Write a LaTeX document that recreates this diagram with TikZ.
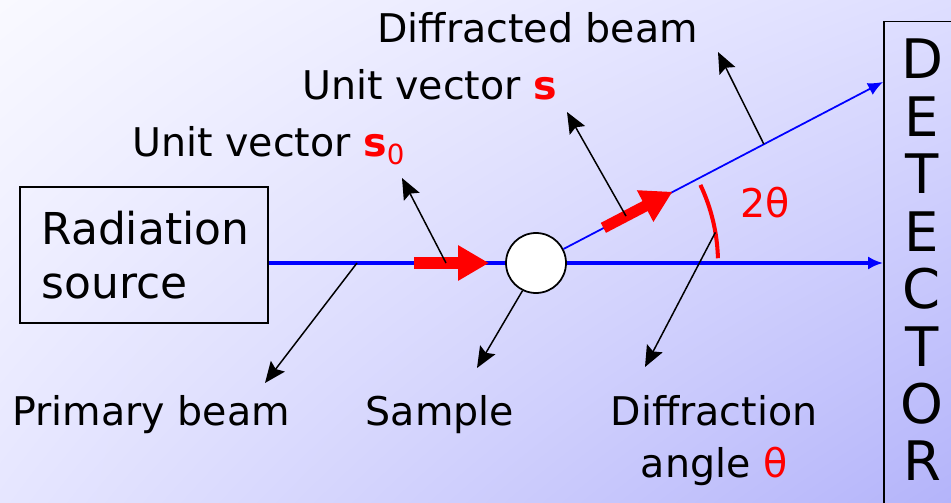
\documentclass[tikz,border=0pt]{standalone}
\usepackage{fontspec}
\setmainfont{DejaVu Sans}
\usetikzlibrary{arrows.meta,positioning,calc,shadings}

\definecolor{bgtl}{RGB}{249,249,255}
\definecolor{bgtr}{RGB}{222,222,255}
\definecolor{bgbl}{RGB}{230,230,255}
\definecolor{bgbr}{RGB}{180,180,250}

\begin{document}
\begin{tikzpicture}[>=Stealth,
    lbl/.style={font=\fontsize{22.5}{29.5}\selectfont, inner sep=0pt},
    mainbeam/.style={draw=blue, line width=2.2pt},
    diffbeam/.style={draw=blue, line width=1pt},
    vec/.style={draw=red, line width=6.4pt, -{Triangle[length=17.6pt,width=19pt]}},
    pointer/.style={line width=0.85pt, -{Stealth[length=12pt,width=10pt,inset=2pt]}}]
    \useasboundingbox (0,0) rectangle (19.02,10.04);
    \clip (0,0) rectangle (19.02,10.04);
    \shade[upper left=bgtl, upper right=bgtr, lower left=bgbl, lower right=bgbr]
        (0,0) rectangle (19.02,10.04);

    % source, sample, detector
    \node[draw, line width=0.85pt, minimum width=4.96cm, minimum height=2.72cm,
          align=left, text width=4.1cm, inner sep=0pt,
          font=\fontsize{25}{31}\selectfont] (src) at (2.88,4.94) {Radiation\\source};
    \node[circle, draw, fill=white, line width=1pt, minimum size=1.2cm,
          inner sep=0pt] (samp) at (10.72,4.78) {};
    \node[draw, line width=0.85pt, anchor=north west, minimum width=2cm,
          minimum height=10.5cm] (det) at (17.66,9.62) {};
    \node[font=\fontsize{31}{32.7}\selectfont, align=center, inner sep=0pt]
        (dettxt) at (18.44,4.84) {D\\E\\T\\E\\C\\T\\O\\R};
    \coordinate (hit) at ([yshift=-1.22cm]det.north west);

    % beams
    \draw[mainbeam] (samp -| src.east) -- (samp.west);
    \draw[mainbeam, -{Latex[length=8.5pt,width=7.5pt]}] (samp.east) -- (samp -| det.west);
    \draw[diffbeam, -{Latex[length=8.5pt,width=7.5pt]}] (samp.27.55) -- (hit);

    % unit vectors and angle
    \draw[vec] ([xshift=-2.44cm]samp.center) -- ([xshift=-0.94cm]samp.center);
    \draw[vec] ([shift={(27.55:1.52)}]samp.center) -- ([shift={(27.55:3.08)}]samp.center);
    \draw[red, line width=2.3pt] ([shift={(1.5:3.64)}]samp.center)
        arc[start angle=1.5, end angle=25.4, radius=3.64];
    \node[lbl, text=red] (twoth) at (15.3,5.98) {2θ};

    % labels
    \node[lbl, anchor=base west] (us0) at (2.64,6.9) {Unit vector \textcolor{red}{\textbf{s}\textsubscript{0}}};
    \node[lbl, anchor=base west] (us) at (6.04,8.04) {Unit vector \textcolor{red}{\textbf{s}}};
    \node[lbl, anchor=base west] (dbeam) at (7.54,9.18) {Diffracted beam};
    \node[lbl, anchor=base west] (pbeam) at (0.24,1.54) {Primary beam};
    \node[lbl, anchor=base] (smp) at (8.8,1.54) {Sample};
    \node[lbl, align=center, anchor=base] (dang) at (14.28,0.5) {Diffraction\\angle \textcolor{red}{θ}};

    % pointer ends
    \coordinate (tus0) at (8.04,6.48);
    \coordinate (tus) at (11.34,7.8);
    \coordinate (tdb) at (14.36,9.0);
    \coordinate (tpb) at (5.3,2.38);
    \coordinate (tsm) at (9.54,2.68);
    \coordinate (tda) at (12.9,2.7);

    \draw[pointer] ([xshift=-1.8cm]samp.center) -- (tus0);
    \draw[pointer] ([shift={(27.55:2.03)}]samp.center) -- (tus);
    \draw[pointer] ([shift={(27.55:5.14)}]samp.center) -- (tdb);
    \draw[pointer] ([xshift=-3.58cm]samp.center) -- (tpb);
    \draw[pointer] (samp.-116) -- (tsm);
    \draw[pointer] ([shift={(9.7:3.64)}]samp.center) -- (tda);
\end{tikzpicture}
\end{document}
